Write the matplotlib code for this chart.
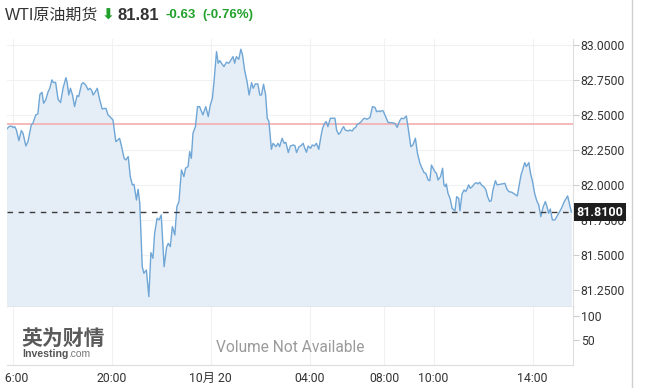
import matplotlib
matplotlib.use("Agg")
import matplotlib.pyplot as plt
import matplotlib.transforms as mtransforms

# --- данные (минуты торговой сессии от 16:00, перерыв 05:00-06:00 убран) ---
session_min = [
    -15, -9, -3, 1, 5, 9, 15, 21, 25, 32, 37, 45, 49, 56, 61, 66, 71, 75, 80, 86,
    90, 95, 99, 104, 110, 116, 122, 129, 132, 136, 140, 145, 150, 156, 160, 167, 171, 177, 183, 187,
    191, 195, 199, 205, 211, 217, 221, 226, 231, 237, 243, 250, 255, 259, 264, 270, 274, 280, 285, 290,
    294, 300, 304, 308, 314, 318, 324, 330, 335, 340, 344, 350, 355, 360, 367, 373, 377, 382, 387, 393,
    398, 403, 409, 415, 419, 425,
    429, 433, 437, 443, 448, 453, 461, 468, 474, 479, 484, 488, 494, 498, 502, 506, 512, 518, 524, 530,
    534, 538, 542, 548, 553, 557, 562, 568, 573, 579, 583, 588, 594, 599, 603, 608, 613, 617, 621, 627,
    631, 638, 643, 647, 653, 658, 662, 668, 673, 680, 684, 688, 694, 698, 704, 708, 712, 716, 722, 726,
    731, 736, 742, 747, 751, 756, 760, 764, 770, 777, 781, 785, 790, 794, 799, 802, 806, 813, 817, 823,
    827, 831, 835, 840, 845, 849, 853, 859, 866, 872, 878, 882, 888,
    890, 894, 898, 902, 910, 918, 926, 932, 937, 942, 948, 954, 958, 965, 970, 976, 981, 987, 992, 997,
    1001, 1007, 1011, 1015, 1019, 1023, 1027, 1031, 1037, 1042, 1045, 1049, 1051, 1055, 1060, 1065, 1072, 1076, 1081, 1084,
    1089, 1094, 1098, 1101, 1105, 1109, 1114, 1120, 1124, 1128, 1132, 1136, 1143, 1147, 1151, 1156, 1160, 1164, 1170, 1174,
    1181, 1187, 1193, 1198, 1203, 1210, 1217, 1223, 1227, 1232, 1236, 1241, 1245, 1251, 1255, 1260, 1265, 1270, 1275, 1280,
    1286, 1291, 1296, 1299, 1303, 1308, 1314, 1322, 1330, 1337, 1345, 1350, 1354,
]
price = [
    82.401, 82.420, 82.425, 82.413, 82.420, 82.396, 82.320, 82.392, 82.373, 82.282, 82.313, 82.432, 82.444, 82.504, 82.511, 82.651, 82.665, 82.587, 82.611, 82.670,
    82.694, 82.754, 82.734, 82.737, 82.615, 82.592, 82.694, 82.770, 82.734, 82.646, 82.694, 82.646, 82.563, 82.642, 82.635, 82.725, 82.734, 82.718, 82.682, 82.694,
    82.682, 82.646, 82.663, 82.694, 82.611, 82.546, 82.549, 82.551, 82.504, 82.487, 82.468, 82.313, 82.325, 82.337, 82.277, 82.194, 82.182, 82.206, 82.063, 82.004,
    82.008, 81.896, 81.973, 81.873, 81.420, 81.373, 81.396, 81.206, 81.520, 81.480, 81.658, 81.766, 81.754, 81.789, 81.420, 81.558, 81.587, 81.563, 81.706, 81.646,
    81.849, 81.885, 82.111, 82.063, 82.123, 82.135,
    82.242, 82.194, 82.373, 82.420, 82.563, 82.563, 82.504, 82.563, 82.492, 82.575, 82.623, 82.742, 82.956, 82.873, 82.892, 82.873, 82.849, 82.880, 82.873, 82.901,
    82.920, 82.873, 82.920, 82.901, 82.973, 82.932, 82.825, 82.742, 82.646, 82.734, 82.694, 82.725, 82.725, 82.646, 82.646, 82.723, 82.646, 82.480, 82.456, 82.258,
    82.301, 82.277, 82.301, 82.277, 82.337, 82.301, 82.308, 82.235, 82.282, 82.289, 82.285, 82.235, 82.277, 82.282, 82.301, 82.265, 82.237, 82.282, 82.265, 82.289,
    82.282, 82.301, 82.258, 82.349, 82.408, 82.444, 82.456, 82.420, 82.480, 82.480, 82.480, 82.396, 82.365, 82.377, 82.408, 82.420, 82.396, 82.389, 82.396, 82.389,
    82.408, 82.413, 82.437, 82.444, 82.456, 82.473, 82.480, 82.473, 82.485, 82.563, 82.558, 82.527, 82.532,
    82.527, 82.534, 82.532, 82.504, 82.449, 82.449, 82.444, 82.415, 82.456, 82.480, 82.477, 82.496, 82.420, 82.277, 82.289, 82.337, 82.230, 82.158, 82.123, 82.092,
    82.087, 82.039, 82.034, 82.146, 82.123, 82.099, 82.087, 82.039, 82.063, 82.123, 82.004, 81.992, 82.011, 81.944, 81.908, 81.837, 81.818, 81.920, 81.908, 81.818,
    81.939, 81.968, 81.956, 81.973, 82.004, 81.980, 81.992, 82.015, 82.020, 82.011, 82.023, 82.004, 81.987, 81.968, 81.920, 81.885, 81.892, 81.968, 82.034, 82.004,
    82.008, 82.011, 82.015, 81.973, 81.956, 81.951, 81.937, 81.925, 81.992, 82.075, 82.111, 82.163, 82.135, 82.163, 82.087, 82.027, 81.944, 81.892, 81.861, 81.777,
    81.849, 81.885, 81.837, 81.801, 81.832, 81.754, 81.754, 81.794, 81.837, 81.885, 81.925, 81.861, 81.810,
]

last_price = 81.81
prev_close = 82.44
change = -0.63
change_pct = -0.76

price_ticks = [81.25, 81.5, 81.75, 82.0, 82.25, 82.5, 82.75, 83.0]
volume_ticks = [50, 100]
time_tick_pos = [0, 240, 480, 720, 900, 1020, 1260]
time_tick_labels = ["16:00", "20:00", "10月 20", "04:00", "08:00", "10:00", "14:00"]

# --- оформление ---
W, H = 645, 388
LINE_C = "#6fa6d6"
FILL_C = "#e5eef6"
GRID_C = "#f0f1f3"
TXT_C = "#333333"
GREEN = "#21a02b"
CJK = ["Roboto", "Noto Sans CJK SC", "DejaVu Sans"]
HDR = ["Liberation Sans", "Noto Sans CJK SC", "DejaVu Sans"]


def px_box(x0, y0, x1, y1):
    return [x0 / W, 1 - y1 / H, (x1 - x0) / W, (y1 - y0) / H]


fig = plt.figure(figsize=(W / 100, H / 100), dpi=100)
fig.patch.set_facecolor("white")

ax = fig.add_axes(px_box(6.5, 39, 573, 307))
axv = fig.add_axes(px_box(6.5, 307, 573, 365), sharex=ax)

x_left, x_right = -15, 1358
ax.set_xlim(x_left, x_right)
ax.set_ylim(81.132, 83.046)

ax.fill_between(session_min, price, 81.132, color=FILL_C, lw=0, zorder=1)
ax.plot(session_min, price, color=LINE_C, lw=1.0, zorder=3)
ax.axhline(prev_close, color="#f4b4b4", lw=1.3, zorder=2)
ax.axhline(last_price, color="#3a3a3a", lw=1.0, dashes=(4, 4), zorder=4)

for t in time_tick_pos:
    ax.axvline(t, color=GRID_C, lw=0.8, zorder=0)
    axv.axvline(t, color=GRID_C, lw=0.8, zorder=0)
for p in price_ticks:
    ax.axhline(p, color=GRID_C, lw=0.8, zorder=0)

# правая ось цен
ax.yaxis.tick_right()
ax.set_yticks(price_ticks)
ax.set_yticklabels([f"{p:.4f}" for p in price_ticks], fontfamily="Roboto")
ax.tick_params(axis="y", length=4, width=0.8, color="#cccccc", labelcolor=TXT_C,
               labelsize=8.8, pad=1.5)
ax.tick_params(axis="x", bottom=False, labelbottom=False)
for s in ["top", "left"]:
    ax.spines[s].set_visible(False)
ax.spines["right"].set_color("#dddddd")
ax.spines["bottom"].set_color("#c8c8c8")
ax.spines["bottom"].set_linewidth(1.0)

# объём
axv.set_ylim(0, 117.4)
axv.yaxis.tick_right()
axv.set_yticks(volume_ticks)
axv.set_yticklabels([str(v) for v in volume_ticks], fontfamily="Roboto")
axv.tick_params(axis="y", length=4, width=0.8, color="#cccccc", labelcolor=TXT_C,
                labelsize=8.8, pad=1.5)
axv.set_xticks(time_tick_pos)
axv.set_xticklabels(time_tick_labels)
for lab in axv.get_xticklabels():
    lab.set_fontfamily(CJK)
axv.tick_params(axis="x", length=0, labelcolor=TXT_C, labelsize=8.8, pad=5)
for s in ["top", "left"]:
    axv.spines[s].set_visible(False)
axv.spines["right"].set_color("#dddddd")
axv.spines["bottom"].set_color("#dddddd")
axv.text(0.5, 0.3, "Volume Not Available", transform=axv.transAxes, ha="center",
         va="center", color="#9a9a9a", fontsize=11.2, fontfamily="Roboto")

# первая подпись времени обрезана краем графика, как в оригинале
clip = mtransforms.Bbox.from_extents(5, 0, W, H)
axv.get_xticklabels()[0].set_clip_box(mtransforms.TransformedBbox(
    mtransforms.Bbox.from_extents(0, 0, 1, 1), mtransforms.Affine2D().scale(1)))
axv.get_xticklabels()[0].set_clip_box(clip)
axv.get_xticklabels()[0].set_clip_on(True)

# метка последней цены
trans = mtransforms.blended_transform_factory(ax.transAxes, ax.transData)
ax.text(1.006, last_price, f"{last_price:.4f}", transform=trans, ha="left", va="center",
        color="white", fontsize=9, fontweight="bold", fontfamily="Roboto", zorder=10,
        bbox=dict(boxstyle="square,pad=0.22", fc="#1e1e1e", ec="none"), clip_on=False)

# заголовок
fig.text(5 / W, 1 - 15 / H, "WTI原油期货", ha="left", va="center", fontsize=11.5,
         color=TXT_C, family=HDR)
fig.text(102 / W, 1 - 15 / H, "⬇", ha="left", va="center", fontsize=11,
         fontweight="bold", color=GREEN, family=["DejaVu Sans"])
fig.text(118 / W, 1 - 15 / H, f"{last_price:.2f}", ha="left", va="center", fontsize=12,
         fontweight="bold", color=TXT_C, family=HDR)
fig.text(165 / W, 1 - 15 / H, f"{change:.2f}", ha="left", va="center", fontsize=9.5,
         fontweight="bold", color=GREEN, family=HDR)
fig.text(202 / W, 1 - 15 / H, f"({change_pct:.2f}%)", ha="left", va="center", fontsize=9.5,
         fontweight="bold", color=GREEN, family=HDR)

# водяной знак
fig.text(21 / W, 1 - 338 / H, "英为财情", ha="left", va="center", fontsize=15,
         fontweight="heavy", color="#5a5a5a", family=["Noto Sans CJK SC"])
fig.text(22 / W, 1 - 354 / H, "Investing", ha="left", va="center", fontsize=7.6,
         fontweight="bold", color="#555555", family=HDR)
fig.text(68 / W, 1 - 354 / H, ".com", ha="left", va="center", fontsize=7.4,
         color="#777777", family=HDR)

# правая рамка
fig.add_artist(plt.Line2D([632 / W, 632 / W], [0, 1], color="#cfcfcf", lw=1.0))

fig.savefig("out.png", dpi=100)
